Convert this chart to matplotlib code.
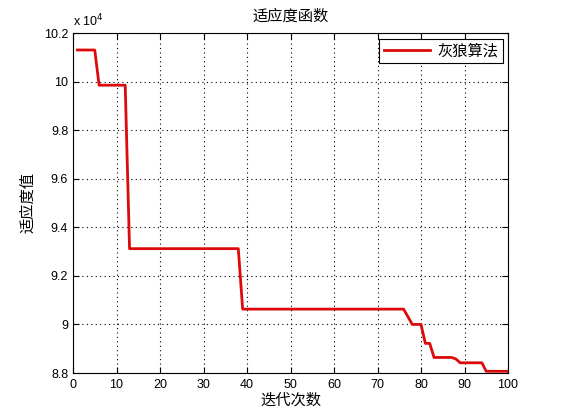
import matplotlib
matplotlib.use("Agg")
import matplotlib.pyplot as plt
from matplotlib.ticker import FixedLocator

plt.rcParams['font.family'] = ['Liberation Sans', 'Noto Sans CJK SC', 'DejaVu Sans']

# Data (iteration breakpoints, fitness values in units of 1e4)
iterations = [1, 5, 6, 12, 13, 38, 39, 76, 78, 80, 81, 82, 83, 87, 88, 89, 94, 95, 100]
fitness = [10.13, 10.13, 9.985, 9.985, 9.312, 9.312, 9.063, 9.063, 9.0, 9.0,
           8.922, 8.922, 8.864, 8.864, 8.858, 8.842, 8.842, 8.807, 8.807]
x_ticks = [0, 10, 20, 30, 40, 50, 60, 70, 80, 90, 100]
y_ticks = [8.8, 9.0, 9.2, 9.4, 9.6, 9.8, 10.0, 10.2]
y_tick_labels = ['8.8', '9', '9.2', '9.4', '9.6', '9.8', '10', '10.2']

title = '适应度函数'
xlabel = '迭代次数'
ylabel = '适应度值'
legend_label = '灰狼算法'

fig = plt.figure(figsize=(5.61, 4.2), dpi=100)
ax = fig.add_axes([73/561, 1 - 373/420, (508 - 73)/561, (373 - 33)/420])

ax.plot(iterations, fitness, color='#dc0a0a', linewidth=2, label=legend_label)

ax.set_xlim(0, 100)
ax.set_ylim(8.8, 10.2)
ax.xaxis.set_major_locator(FixedLocator(x_ticks))
ax.set_yticks(y_ticks)
ax.set_yticklabels(y_tick_labels)
ax.tick_params(direction='in', length=4, width=0.8, labelsize=9, top=True, right=True,
               colors='black')
ax.tick_params(axis='x', pad=4)
ax.grid(True, linestyle=(0, (1, 3)), color='black', linewidth=0.8)
for s in ax.spines.values():
    s.set_linewidth(0.8)
    s.set_color('black')

ax.set_title(title, fontsize=11, pad=9)
ax.set_xlabel(xlabel, fontsize=11, labelpad=2)
ax.set_ylabel(ylabel, fontsize=11, labelpad=6)

ax.text(0.0, 1.012, r'x 10$^{4}$', transform=ax.transAxes, fontsize=9,
        ha='left', va='bottom')

leg = ax.legend(loc='upper right', fontsize=11, fancybox=False, framealpha=1,
                edgecolor='black', borderpad=0.3, handlelength=3.0,
                handletextpad=0.5,
                bbox_to_anchor=(0.9885, 0.982), borderaxespad=0)
leg.get_frame().set_linewidth(0.8)

fig.savefig('out.png', dpi=100, facecolor='white')
